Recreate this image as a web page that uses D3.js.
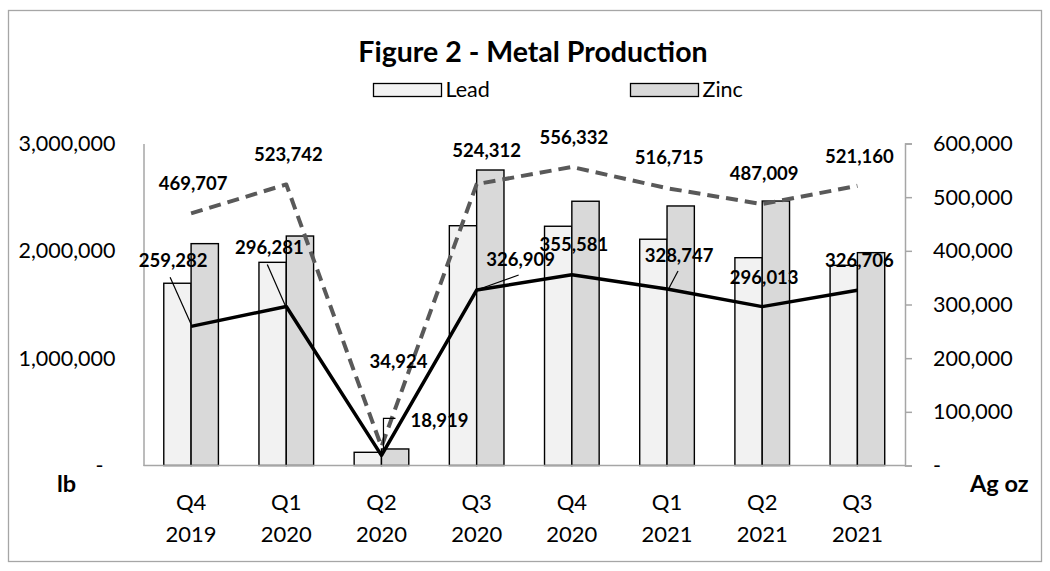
<!DOCTYPE html>
<html>
<head>
<meta charset="utf-8">
<script src="https://cdn.jsdelivr.net/npm/d3@7"></script>
<style>
  html, body { margin: 0; padding: 0; background: #fff; }
  svg { display: block; font-family: Lato, "Open Sans", sans-serif; }
</style>
</head>
<body>
<div id="chart"></div>
<script>
// ---- data ----
var quarters = ["Q4|2019", "Q1|2020", "Q2|2020", "Q3|2020", "Q4|2020", "Q1|2021", "Q2|2021", "Q3|2021"];
var leadLb = [1698000, 1893000, 123000, 2234000, 2229000, 2108000, 1936000, 1865000];
var zincLb = [2067000, 2138000, 154000, 2753000, 2462000, 2418000, 2464000, 1983000];
var silverDashed = [469707, 523742, 34924, 524312, 556332, 516715, 487009, 521160];
var silverSolid = [259282, 296281, 18919, 326909, 355581, 328747, 296013, 326706];
var leftTicks = [0, 1000000, 2000000, 3000000];
var rightTicks = [0, 100000, 200000, 300000, 400000, 500000, 600000];

// ---- hand-placed label nudges (dx, dy of baseline from the point; optional leader) ----
var dashedNudge = [
  [2, -23], [2, -23], [17, -79], [10, -27], [2, -23], [2, -24], [2, -24], [2, -23]
];
var solidNudge = [
  { dx: -18, dy: -59, lead: [[-21, -49], [0, -2]] },
  { dx: -17, dy: -52, lead: [[-19, -42], [-1, -1]] },
  { dx: 58, dy: -28, lead: [[14, -37], [2, -37], [2, -3]] },
  { dx: 44, dy: -24, lead: [[42, -15], [0, 0]] },
  { dx: 2, dy: -24 },
  { dx: 12, dy: -27, lead: [[11, -18], [2, -1]] },
  { dx: 2, dy: -23 },
  { dx: 2, dy: -23 }
];

(function () {
  "use strict";
  var W = 1050, H = 571;
  var left = 143.5, right = 905, top = 143.5, bottom = 465.5;

  var svg = d3.select("#chart").append("svg")
    .attr("width", W).attr("height", H);

  // outer chart frame
  svg.append("rect")
    .attr("x", 8.5).attr("y", 10.5).attr("width", 1033).attr("height", 551)
    .attr("fill", "#fff").attr("stroke", "#a6a6a6").attr("stroke-width", 1.3);

  // ---- scales ----
  var x = d3.scaleBand().domain(d3.range(quarters.length)).range([left, right]);
  var bw = x.bandwidth();
  var barW = bw * 0.287;
  var xs = d3.scaleBand().domain(["Lead", "Zinc"])
    .range([bw / 2 - barW, bw / 2 + barW]);
  var yL = d3.scaleLinear().domain([0, 3000000]).range([bottom, top]);
  var yR = d3.scaleLinear().domain([0, 600000]).range([bottom, top]);
  var cx = function (i) { return x(i) + bw / 2; };
  var fmt = d3.format(",");

  // ---- title + legend ----
  svg.append("text")
    .attr("x", 533).attr("y", 62).attr("text-anchor", "middle")
    .attr("font-size", 28.5).attr("font-weight", 700).attr("fill", "#000")
    .text("Figure 2 - Metal Production");

  var legend = [
    { name: "Lead", fill: "#f2f2f2", x: 373.5 },
    { name: "Zinc", fill: "#d9d9d9", x: 630.5 }
  ];
  legend.forEach(function (l) {
    svg.append("rect")
      .attr("x", l.x).attr("y", 83.5).attr("width", 68).attr("height", 13)
      .attr("fill", l.fill).attr("stroke", "#000").attr("stroke-width", 1.3);
    svg.append("text")
      .attr("x", l.x + 72).attr("y", 97).attr("font-size", 21.5)
      .attr("fill", "#000").text(l.name);
  });

  // ---- bars ----
  var groups = svg.append("g").selectAll("g").data(quarters).enter().append("g")
    .attr("transform", function (d, i) { return "translate(" + x(i) + ",0)"; });
  groups.append("rect")
    .attr("x", xs("Lead")).attr("width", xs.bandwidth())
    .attr("y", function (d, i) { return yL(leadLb[i]); })
    .attr("height", function (d, i) { return bottom - yL(leadLb[i]); })
    .attr("fill", "#f2f2f2").attr("stroke", "#000").attr("stroke-width", 1.4);
  groups.append("rect")
    .attr("x", xs("Zinc")).attr("width", xs.bandwidth())
    .attr("y", function (d, i) { return yL(zincLb[i]); })
    .attr("height", function (d, i) { return bottom - yL(zincLb[i]); })
    .attr("fill", "#d9d9d9").attr("stroke", "#000").attr("stroke-width", 1.4);

  // ---- axes ----
  var axisCol = "#a6a6a6";
  svg.append("line").attr("x1", left).attr("x2", right).attr("y1", bottom).attr("y2", bottom)
    .attr("stroke", axisCol).attr("stroke-width", 1.5);

  var gl = svg.append("g").attr("transform", "translate(" + left + ",0)")
    .call(d3.axisLeft(yL).tickValues(leftTicks).tickSize(0).tickPadding(28)
      .tickFormat(function (d) { return d === 0 ? "-" : fmt(d); }));
  gl.select(".domain").attr("stroke", axisCol).attr("stroke-width", 1.5);
  gl.selectAll("text").attr("font-size", 21.5).attr("font-family", "Lato").attr("fill", "#000")
    .attr("dx", function (d) { return d === 0 ? -12 : 0; });

  var gr = svg.append("g").attr("transform", "translate(" + right + ",0)")
    .call(d3.axisRight(yR).tickValues(rightTicks).tickSize(7).tickPadding(21)
      .tickFormat(function (d) { return d === 0 ? "-" : fmt(d); }));
  gr.select(".domain").attr("stroke", axisCol).attr("stroke-width", 1.5);
  gr.selectAll(".tick line").attr("stroke", axisCol).attr("stroke-width", 1.5);
  gr.selectAll("text").attr("font-size", 21.5).attr("font-family", "Lato").attr("fill", "#000");

  // category labels (two lines)
  var cat = svg.append("g").selectAll("text").data(quarters).enter().append("text")
    .attr("text-anchor", "middle").attr("font-size", 22).attr("fill", "#000")
    .attr("x", function (d, i) { return cx(i); });
  cat.append("tspan").attr("x", function (d, i) { return cx(i); }).attr("y", 510)
    .text(function (d) { return d.split("|")[0]; });
  cat.append("tspan").attr("x", function (d, i) { return cx(i); }).attr("y", 542)
    .text(function (d) { return d.split("|")[1]; });

  // unit labels
  svg.append("text").attr("x", 57).attr("y", 492).attr("font-size", 23.5).attr("font-weight", 700)
    .text("lb");
  svg.append("text").attr("x", 970).attr("y", 492).attr("font-size", 23.5).attr("font-weight", 700)
    .text("Ag oz");

  // ---- lines ----
  var line = d3.line()
    .x(function (d, i) { return cx(i); })
    .y(function (d) { return yR(d); });

  svg.append("path").datum(silverDashed)
    .attr("fill", "none").attr("stroke", "#595959").attr("stroke-width", 4)
    .attr("stroke-dasharray", "12 7").attr("stroke-linejoin", "round")
    .attr("d", line);
  svg.append("path").datum(silverSolid)
    .attr("fill", "none").attr("stroke", "#000").attr("stroke-width", 3.5)
    .attr("stroke-linejoin", "round")
    .attr("d", line);

  // ---- data labels ----
  var labG = svg.append("g").attr("font-size", 18.5).attr("font-weight", 700)
    .attr("text-anchor", "middle").attr("fill", "#000");

  silverDashed.forEach(function (v, i) {
    labG.append("text")
      .attr("x", cx(i) + dashedNudge[i][0]).attr("y", yR(v) + dashedNudge[i][1])
      .text(fmt(v));
  });

  silverSolid.forEach(function (v, i) {
    var n = solidNudge[i], px = cx(i), py = yR(v);
    if (n.lead) {
      svg.append("polyline")
        .attr("points", n.lead.map(function (p) { return (px + p[0]) + "," + (py + p[1]); }).join(" "))
        .attr("fill", "none").attr("stroke", "#000").attr("stroke-width", 1.2);
    }
    labG.append("text")
      .attr("x", px + n.dx).attr("y", py + n.dy)
      .text(fmt(v));
  });
  labG.raise();
})();
</script>
</body>
</html>
